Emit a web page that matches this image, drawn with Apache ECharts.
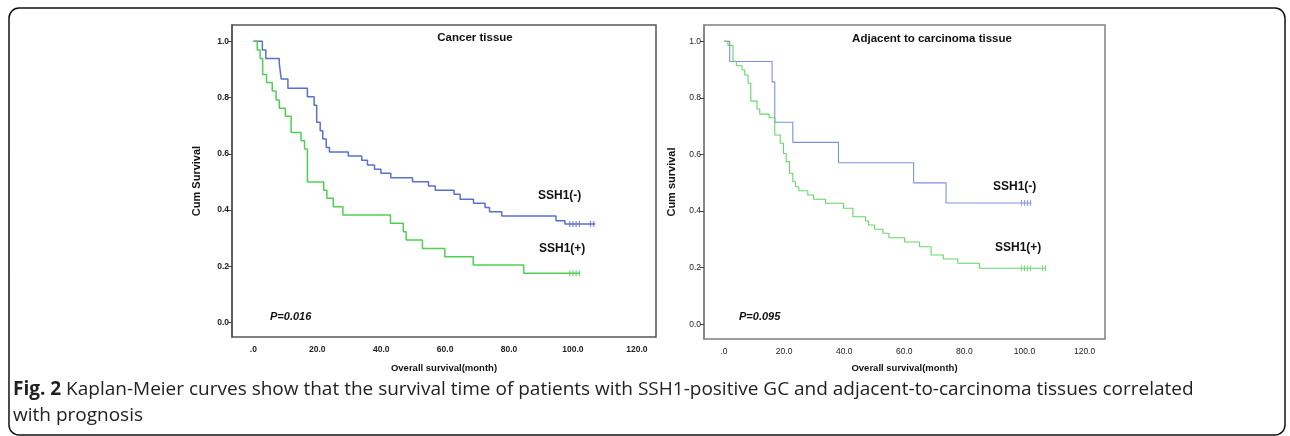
<!DOCTYPE html>
<html>
<head>
<meta charset="utf-8">
<script src="https://cdn.jsdelivr.net/npm/echarts@6/dist/echarts.min.js"></script>
<style>
html,body{margin:0;padding:0;background:#fff;}
#main{width:1290px;height:436px;}
</style>
</head>
<body>
<div id="main"></div>
<script>
// 刻度
var xTicks = [0, 20, 40, 60, 80, 100, 120];
var yTicks = [0, 0.2, 0.4, 0.6, 0.8, 1.0];

// Cancer tissue - SSH1(-)
var cancerNegTime = [0, 2.8, 3.9, 8.1, 8.7, 10.8, 16.9, 19.0, 19.8, 20.9, 21.7, 22.8, 23.8, 29.7, 33.9, 35.7, 37.9, 39.9, 43.0, 49.8, 54.8, 56.9, 62.8, 64.7, 68.9, 72.5, 73.9, 77.7, 94.7, 97.5];
var cancerNegSurv = [1.0, 0.969, 0.939, 0.921, 0.866, 0.833, 0.803, 0.773, 0.712, 0.682, 0.653, 0.623, 0.607, 0.592, 0.577, 0.560, 0.545, 0.531, 0.515, 0.501, 0.486, 0.471, 0.456, 0.439, 0.424, 0.409, 0.394, 0.379, 0.362, 0.351];
var cancerNegCensor = [99, 100, 101, 102, 105.5, 106.5];
var cancerNegEnd = 107;

// Cancer tissue - SSH1(+)
var cancerPosTime = [0, 1.2, 2.1, 2.9, 4.1, 5.9, 7.1, 8.1, 10.0, 11.8, 14.9, 16.0, 16.9, 22.0, 23.0, 25.0, 28.0, 42.9, 46.9, 47.8, 52.9, 59.9, 68.8, 84.6];
var cancerPosSurv = [1.0, 0.969, 0.939, 0.882, 0.854, 0.823, 0.791, 0.762, 0.734, 0.676, 0.647, 0.617, 0.500, 0.471, 0.442, 0.412, 0.383, 0.353, 0.323, 0.294, 0.264, 0.234, 0.205, 0.176];
var cancerPosCensor = [99, 100, 101, 102];
var cancerPosEnd = 102.3;

// Adjacent to carcinoma tissue - SSH1(-)
var adjNegTime = [0, 1.9, 16.0, 16.9, 22.9, 38.1, 63.1, 73.9];
var adjNegSurv = [1.0, 0.929, 0.857, 0.714, 0.643, 0.571, 0.500, 0.429];
var adjNegCensor = [99, 100, 101, 102];
var adjNegEnd = 102.3;

// Adjacent to carcinoma tissue - SSH1(+)
var adjPosTime = [0, 1.3, 3.0, 4.1, 6.0, 6.9, 8.0, 8.9, 11.0, 11.9, 15.0, 16.9, 18.7, 19.8, 20.7, 21.8, 22.9, 23.8, 24.9, 27.9, 29.8, 33.8, 39.8, 42.9, 47.1, 48.1, 50.1, 52.9, 54.9, 60.1, 65.1, 68.9, 73.0, 77.8, 85.0];
var adjPosSurv = [1.0, 0.986, 0.930, 0.914, 0.899, 0.881, 0.852, 0.789, 0.761, 0.743, 0.730, 0.669, 0.640, 0.604, 0.575, 0.534, 0.504, 0.486, 0.472, 0.457, 0.442, 0.428, 0.410, 0.380, 0.365, 0.351, 0.336, 0.322, 0.306, 0.291, 0.274, 0.245, 0.231, 0.216, 0.198];
var adjPosCensor = [99, 100, 101, 102, 106, 107];
var adjPosEnd = 107.2;

var blueL = '#5a6fcf', greenL = '#4fcf55';
var blueR = '#7f90dc', greenR = '#66d66a';
var font = 'Liberation Sans';

function kmLine(times, surv, end) {
    var pts = [];
    for (var i = 0; i < times.length; i++) {
        pts.push([times[i], surv[i]]);
    }
    pts.push([end, surv[surv.length - 1]]);
    return pts;
}
function censorPts(cens, surv) {
    var last = surv[surv.length - 1];
    return cens.map(function (c) { return [c, last]; });
}

function xAxisCfg(gi, min, max, bold, gap) {
    return {
        type: 'value', gridIndex: gi, min: min, max: max,
        name: 'Overall survival(month)', nameLocation: 'middle', nameGap: gap,
        nameTextStyle: {fontFamily: font, fontWeight: 'bold', fontSize: 9.5, color: '#111'},
        axisLine: {show: false, onZero: false}, axisTick: {show: false}, splitLine: {show: false},
        axisLabel: {
            customValues: xTicks, margin: 8, fontFamily: font, fontSize: 8.5,
            fontWeight: bold ? 'bold' : 'normal', color: '#222',
            formatter: function (v) { return v === 0 ? '.0' : v.toFixed(1); }
        }
    };
}
function yAxisCfg(gi, min, max, bold, name, gap, lineColor) {
    return {
        type: 'value', gridIndex: gi, min: min, max: max,
        name: name, nameLocation: 'middle', nameGap: gap, nameRotate: 90,
        nameTextStyle: {fontFamily: font, fontWeight: 'bold', fontSize: 11, color: '#111'},
        axisLine: {show: true, onZero: false, lineStyle: {color: lineColor, width: 1.5}},
        axisTick: {show: true, customValues: yTicks, length: 4, lineStyle: {color: '#444'}},
        splitLine: {show: false},
        axisLabel: {
            customValues: yTicks, margin: 3, fontFamily: font, fontSize: 8.5,
            fontWeight: bold ? 'bold' : 'normal', color: '#222',
            formatter: function (v) { return v.toFixed(1); }
        }
    };
}
function censorSeries(xi, data, color) {
    return {
        type: 'scatter', xAxisIndex: xi, yAxisIndex: xi, data: data,
        symbol: 'rect', symbolSize: [1.2, 6], itemStyle: {color: color}, silent: true
    };
}
function txt(x, y, text, size, align, extra) {
    var st = {x: x, y: y, text: text, fontFamily: font, fontSize: size, fontWeight: 'bold',
              fill: '#111', align: align || 'left', verticalAlign: 'middle'};
    for (var k in extra) st[k] = extra[k];
    return {type: 'text', style: st};
}

var myChart = echarts.init(document.getElementById('main'));
var option = {
    backgroundColor: '#fff',
    animation: false,
    grid: [
        {left: 232, top: 25, width: 424, height: 312, show: true, borderColor: '#555', borderWidth: 1.5},
        {left: 704, top: 25, width: 401, height: 314, show: true, borderColor: '#808080', borderWidth: 1.5}
    ],
    xAxis: [xAxisCfg(0, -6.7, 126, true, 26), xAxisCfg(1, -6.66, 126.8, false, 24)],
    yAxis: [
        yAxisCfg(0, -0.051, 1.058, true, 'Cum Survival', 30, '#555'),
        yAxisCfg(1, -0.052, 1.058, false, 'Cum survival', 27, '#808080')
    ],
    series: [
        {type: 'line', step: 'end', xAxisIndex: 0, yAxisIndex: 0, showSymbol: false,
         lineStyle: {color: blueL, width: 1.5}, data: kmLine(cancerNegTime, cancerNegSurv, cancerNegEnd)},
        {type: 'line', step: 'end', xAxisIndex: 0, yAxisIndex: 0, showSymbol: false,
         lineStyle: {color: greenL, width: 1.5}, data: kmLine(cancerPosTime, cancerPosSurv, cancerPosEnd)},
        censorSeries(0, censorPts(cancerNegCensor, cancerNegSurv), blueL),
        censorSeries(0, censorPts(cancerPosCensor, cancerPosSurv), greenL),
        {type: 'line', step: 'end', xAxisIndex: 1, yAxisIndex: 1, showSymbol: false,
         lineStyle: {color: blueR, width: 1.1}, data: kmLine(adjNegTime, adjNegSurv, adjNegEnd)},
        {type: 'line', step: 'end', xAxisIndex: 1, yAxisIndex: 1, showSymbol: false,
         lineStyle: {color: greenR, width: 1.1}, data: kmLine(adjPosTime, adjPosSurv, adjPosEnd)},
        censorSeries(1, censorPts(adjNegCensor, adjNegSurv), blueR),
        censorSeries(1, censorPts(adjPosCensor, adjPosSurv), greenR)
    ],
    graphic: [
        {type: 'rect', shape: {x: 9, y: 8, width: 1276, height: 427, r: 10},
         style: {fill: 'none', stroke: '#111', lineWidth: 1.5}, silent: true},
        txt(475, 38, 'Cancer tissue', 11.5, 'center'),
        txt(932, 39, 'Adjacent to carcinoma tissue', 11.5, 'center'),
        txt(538, 196, 'SSH1(-)', 12),
        txt(539, 249, 'SSH1(+)', 12),
        txt(993, 187, 'SSH1(-)', 12),
        txt(995, 248, 'SSH1(+)', 12),
        txt(270, 317, 'P=0.016', 11, 'left', {fontStyle: 'italic'}),
        txt(739, 317, 'P=0.095', 11, 'left', {fontStyle: 'italic'}),
        {type: 'text', style: {
            x: 13, y: 390, verticalAlign: 'middle', fontFamily: 'Open Sans', fontSize: 19, fill: '#222',
            text: '{b|Fig. 2} Kaplan-Meier curves show that the survival time of patients with SSH1-positive GC and adjacent-to-carcinoma tissues correlated',
            rich: {b: {fontFamily: 'Open Sans', fontSize: 19, fontWeight: 'bold', fill: '#222'}}
        }},
        {type: 'text', style: {x: 13, y: 416, verticalAlign: 'middle', fontFamily: 'Open Sans', fontSize: 19, fill: '#222',
            text: 'with prognosis'}}
    ]
};
myChart.setOption(option);
</script>
</body>
</html>
